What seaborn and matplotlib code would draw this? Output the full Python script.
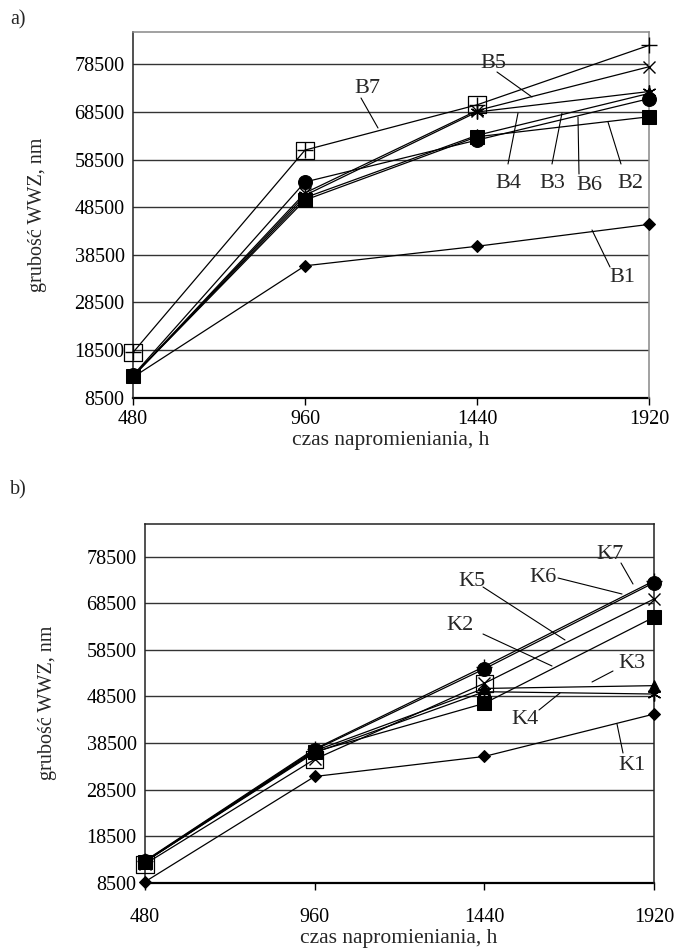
import numpy as np
import pandas as pd
import matplotlib
matplotlib.use("Agg")
import matplotlib.pyplot as plt
import seaborn as sns

# ---------------- data ----------------
hours = [480, 960, 1440, 1920]
xticks = [480, 960, 1440, 1920]
yticks = [8500, 18500, 28500, 38500, 48500, 58500, 68500, 78500]

B1 = [12800, 36200, 40300, 44900]
B2 = [13000, 50000, 63300, 67500]
B3 = [13000, 50500, 63600, 72400]
B4 = [13000, 51000, 68500, 72800]
B5 = [13000, 51500, 68800, 78000]
B6 = [13200, 53800, 62600, 71300]
B7 = [18000, 60500, 70000, 82500]

K1 = [8700, 31300, 35600, 44700]
K2 = [13000, 36600, 47000, 65500]
K3 = [13000, 36800, 50200, 50800]
K4 = [13000, 36400, 49500, 49000]
K5 = [12500, 35000, 51300, 69400]
K6 = [13100, 37000, 54400, 72900]
K7 = [13200, 37200, 54900, 73300]

top_series = {"B1": B1, "B2": B2, "B3": B3, "B4": B4, "B5": B5, "B6": B6, "B7": B7}
bot_series = {"K1": K1, "K2": K2, "K3": K3, "K4": K4, "K5": K5, "K6": K6, "K7": K7}

xlabel = "czas napromieniania, h"
ylabel = "grubość WWZ, nm"

# ---------------- style ----------------
sns.set_theme(style="white")
plt.rcParams["font.family"] = ["Liberation Serif", "DejaVu Serif"]

H = 949.0
W = 679.0
fig = plt.figure(figsize=(W / 100, H / 100), dpi=100)
ax1 = fig.add_axes([133 / W, 1 - 397.7 / H, 516 / W, 365.7 / H])
ax2 = fig.add_axes([145 / W, 1 - 882.7 / H, 509 / W, 358.7 / H])

# marker styles
mstyle = {
    1: dict(marker="D", markersize=6.5),
    2: dict(marker="s", markersize=10),
    3: dict(marker="^", markersize=8),
    4: dict(marker=(6, 2, 0), markersize=10, markeredgewidth=1.0),
    5: dict(marker="x", markersize=9, markeredgewidth=1.0),
    6: dict(marker="o", markersize=10),
    7: dict(marker="+", markersize=11, markeredgewidth=1.0),
}


def draw(ax, series, overlay_key, ylim_top, xpad):
    for i, (name, vals) in enumerate(series.items(), start=1):
        df = pd.DataFrame({"t": hours, "v": vals})
        sns.lineplot(data=df, x="t", y="v", ax=ax, color="black", lw=0.9,
                     markeredgecolor="black", markerfacecolor="black",
                     clip_on=False, zorder=3 + i, **mstyle[i])
    ov = pd.DataFrame({"t": hours[:3], "v": series[overlay_key][:3]})
    sns.scatterplot(data=ov, x="t", y="v", ax=ax, marker="s", s=150,
                    facecolor="none", edgecolor="black", linewidth=0.9,
                    clip_on=False, zorder=12)
    ax.set_xlim(480, 1920)
    ax.set_ylim(8500, ylim_top)
    ax.set_xticks(xticks)
    ax.set_xticklabels([str(v) for v in xticks])
    ax.set_yticks(yticks)
    ax.set_yticklabels([str(v) for v in yticks])
    ax.set_xlabel("")
    ax.set_ylabel("")
    for y in yticks[1:]:
        ax.axhline(y, color="#333333", lw=1.0, zorder=1)
    ax.tick_params(axis="x", length=5, width=1, direction="out", pad=xpad,
                   labelsize=14.5, bottom=True, color="black")
    ax.tick_params(axis="y", length=0, pad=6, labelsize=14.5)
    for lab in ax.get_xticklabels() + ax.get_yticklabels():
        lab.set_color("black")
    ax.spines["left"].set_color("#222222")
    ax.spines["left"].set_linewidth(1.1)
    ax.spines["bottom"].set_color("black")
    ax.spines["bottom"].set_linewidth(1.6)
    ax.spines["bottom"].set_zorder(2)


draw(ax1, top_series, "B7", 85300, 4)
draw(ax2, bot_series, "K5", 85500, 13)
for sp in ("top", "right"):
    ax1.spines[sp].set_color("#888888")
    ax1.spines[sp].set_linewidth(1.1)
    ax2.spines[sp].set_color("#222222")
    ax2.spines[sp].set_linewidth(1.1)


def px(ax, x, y):
    return tuple(ax.transData.inverted().transform((x, H - y)))


def label(ax, text, tpos, start, tip):
    ax.text(*px(ax, *tpos), text, fontsize=16, ha="center", va="center",
            zorder=20)
    ax.annotate("", xy=px(ax, *tip), xytext=px(ax, *start),
                arrowprops=dict(arrowstyle="-", lw=0.8, color="black",
                                shrinkA=0, shrinkB=0), zorder=20)


top_labels = [
    ("B7", (367, 89), (361, 98), (378, 128)),
    ("B5", (493, 64), (497, 72), (532, 97)),
    ("B4", (508, 183), (508, 164), (518, 113)),
    ("B3", (552, 183), (552, 164), (562, 113)),
    ("B6", (589, 185), (579, 174), (578, 117)),
    ("B2", (630, 183), (621, 164), (608, 122)),
    ("B1", (622, 277), (610, 267), (592, 230)),
]
bot_labels = [
    ("K7", (610, 554), (621, 563), (633, 584)),
    ("K6", (543, 578), (558, 578), (622, 594)),
    ("K5", (472, 581), (483, 587), (565, 640)),
    ("K2", (460, 625), (483, 634), (552, 666)),
    ("K3", (632, 663), (613, 671), (592, 682)),
    ("K4", (525, 719), (539, 710), (560, 693)),
    ("K1", (632, 765), (623, 753), (617, 724)),
]
for t in top_labels:
    label(ax1, *t)
for t in bot_labels:
    label(ax2, *t)

fig.text(10 / W, 1 - 20 / H, "a)", fontsize=14.5, ha="left", va="center")
fig.text(10 / W, 1 - 490 / H, "b)", fontsize=14.5, ha="left", va="center")
fig.text(38 / W, 1 - 215 / H, ylabel, fontsize=14.5, rotation=90,
         ha="center", va="center")
fig.text(48 / W, 1 - 703 / H, ylabel, fontsize=14.5, rotation=90,
         ha="center", va="center")
fig.text(391 / W, 1 - 440 / H, xlabel, fontsize=15.5, ha="center", va="center")
fig.text(399 / W, 1 - 939 / H, xlabel, fontsize=15.5, ha="center", va="center")

fig.savefig("out.png", dpi=100)
